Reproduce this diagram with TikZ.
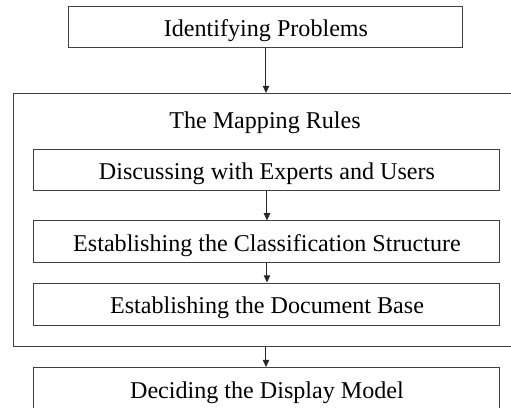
\documentclass[tikz,border=0pt]{standalone}
\usepackage{fontspec}
\setmainfont{Liberation Serif}
\usetikzlibrary{arrows.meta}

\begin{document}
\begin{tikzpicture}[x=0.5pt,y=-0.5pt,
  stepbox/.style={draw=black!75,line width=0.5pt,inner sep=0pt,
    minimum width=233pt,minimum height=21pt,
    text height=9.5pt,text depth=0pt,font=\fontsize{12.05}{14}\selectfont},
  flow/.style={draw=black!85,line width=0.5pt,-{Triangle[length=3.6pt,width=3.2pt]}}]
 \useasboundingbox (0,0) rectangle (511,408);
 \node[stepbox,minimum width=197pt,minimum height=20.5pt] (problems) at (266,26.5) {Identifying Problems};
 \node[draw=black!75,line width=0.5pt,inner sep=0pt,minimum width=252.5pt,minimum height=126.6pt] (rules) at (266,220.1) {};
 \node[anchor=base,font=\fontsize{12.05}{14}\selectfont] (rulestitle) at (265,128.3) {The Mapping Rules};
 \node[stepbox,minimum height=20.75pt] (experts) at (267,169.8) {Discussing with Experts and Users};
 \node[stepbox] (classes) at (267,241.9) {Establishing the Classification Structure};
 \node[stepbox] (docbase) at (267,304) {Establishing the Document Base};
 \node[stepbox] (display) at (267,388.5) {Deciding the Display Model};
 \draw[flow] (problems.south -| rules.north) -- (rules.north);
 \draw[flow] (experts.south) -- (classes.north);
 \draw[flow] (classes.south) -- (docbase.north);
 \draw[flow] (rules.south) -- (rules.south |- display.north);
\end{tikzpicture}
\end{document}
